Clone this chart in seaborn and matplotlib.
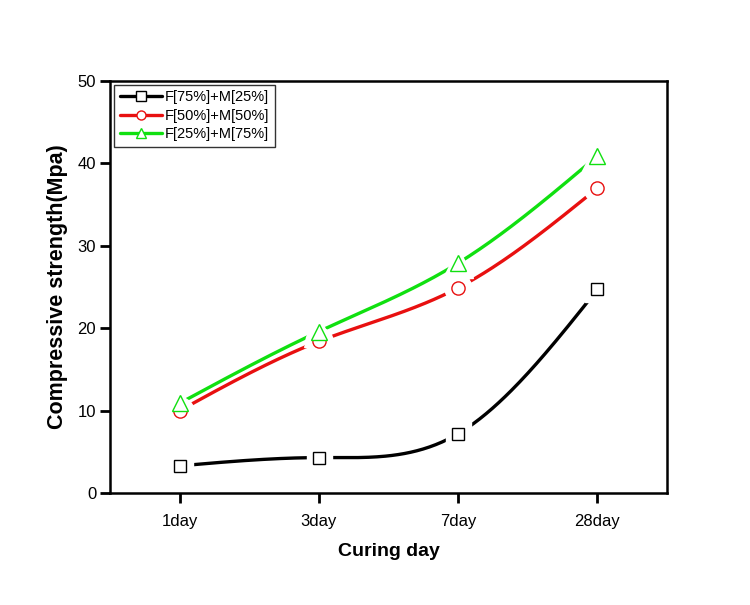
import numpy as np
import pandas as pd
import matplotlib
matplotlib.use("Agg")
import matplotlib.pyplot as plt
import seaborn as sns

# Data
days = ["1day", "3day", "7day", "28day"]
f75_m25 = [3.3, 4.3, 7.2, 24.7]
f50_m50 = [10.0, 18.4, 24.9, 37.0]
f25_m75 = [10.9, 19.6, 27.9, 40.9]

series = [
    ("F[75%]+M[25%]", f75_m25, "black", "s", 8),
    ("F[50%]+M[50%]", f50_m50, "#e81010", "o", 9.5),
    ("F[25%]+M[75%]", f25_m75, "#10e010", "^", 12),
]

sns.set_style("white")
plt.rcParams["font.family"] = ["Liberation Sans", "DejaVu Sans"]
plt.rcParams["text.color"] = "black"
plt.rcParams["axes.labelcolor"] = "black"


def natural_spline(x, y, n=200):
    # natural cubic spline through the points, only used to draw the smooth curve
    x = np.asarray(x, float)
    y = np.asarray(y, float)
    k = len(x)
    h = np.diff(x)
    A = np.zeros((k, k))
    b = np.zeros(k)
    A[0, 0] = A[-1, -1] = 1
    for i in range(1, k - 1):
        A[i, i - 1] = h[i - 1]
        A[i, i] = 2 * (h[i - 1] + h[i])
        A[i, i + 1] = h[i]
        b[i] = 6 * ((y[i + 1] - y[i]) / h[i] - (y[i] - y[i - 1]) / h[i - 1])
    M = np.linalg.solve(A, b)
    xs = np.linspace(x[0], x[-1], n)
    idx = np.clip(np.searchsorted(x, xs) - 1, 0, k - 2)
    x0, x1 = x[idx], x[idx + 1]
    hh = x1 - x0
    t0, t1 = x1 - xs, xs - x0
    ys = (M[idx] * t0**3 + M[idx + 1] * t1**3) / (6 * hh) \
        + (y[idx] / hh - M[idx] * hh / 6) * t0 \
        + (y[idx + 1] / hh - M[idx + 1] * hh / 6) * t1
    return xs, ys


fig = plt.figure(figsize=(7.5, 6.05), dpi=100)
ax = fig.add_axes([0.1467, 0.1851, 0.7427, 0.681])

xpos = np.arange(len(days))
for label, vals, color, marker, ms in series:
    xs, ys = natural_spline(xpos, vals)
    sns.lineplot(x=xs, y=ys, ax=ax, color=color, linewidth=2.4, sort=False)
    # white halo so the line stops short of each marker
    ax.plot(xpos, vals, linestyle="none", marker=marker, markersize=ms + 10,
            markerfacecolor="white", markeredgecolor="white", zorder=3)
    ax.plot(xpos, vals, linestyle="none", marker=marker, markersize=ms,
            markerfacecolor="white", markeredgecolor=color, markeredgewidth=1.0,
            zorder=4)

# legend handles
handles = []
for label, vals, color, marker, ms in series:
    h, = ax.plot([], [], color=color, linewidth=2.4, marker=marker, markersize=6.5,
                 markerfacecolor="white", markeredgecolor=color,
                 markeredgewidth=1.0, label=label)
    handles.append(h)
leg = ax.legend(handles=handles, loc="upper left", fontsize=10.5, frameon=True,
                fancybox=False, edgecolor="black", handlelength=2.9,
                borderaxespad=0.25, labelspacing=0.3, handletextpad=0.2,
                borderpad=0.4)
leg.get_frame().set_linewidth(1.0)

ax.set_xlim(-0.5, 3.5)
ax.set_ylim(0, 50)
ax.set_xticks(xpos)
ax.set_xticklabels(days)
ax.set_yticks([0, 10, 20, 30, 40, 50])
ax.tick_params(axis="both", which="both", direction="out", length=7, width=2,
               labelsize=12, colors="black", bottom=True, left=True,
               top=False, right=False)
ax.tick_params(axis="x", pad=8)
ax.tick_params(axis="y", pad=3)
for sp in ax.spines.values():
    sp.set_color("black")
    sp.set_linewidth(1.8)

ax.set_xlabel("Curing day", fontsize=14, fontweight="bold", labelpad=10)
ax.set_ylabel("Compressive strength(Mpa)", fontsize=15.5, fontweight="bold",
              labelpad=7)

fig.savefig("out.png", dpi=100)
